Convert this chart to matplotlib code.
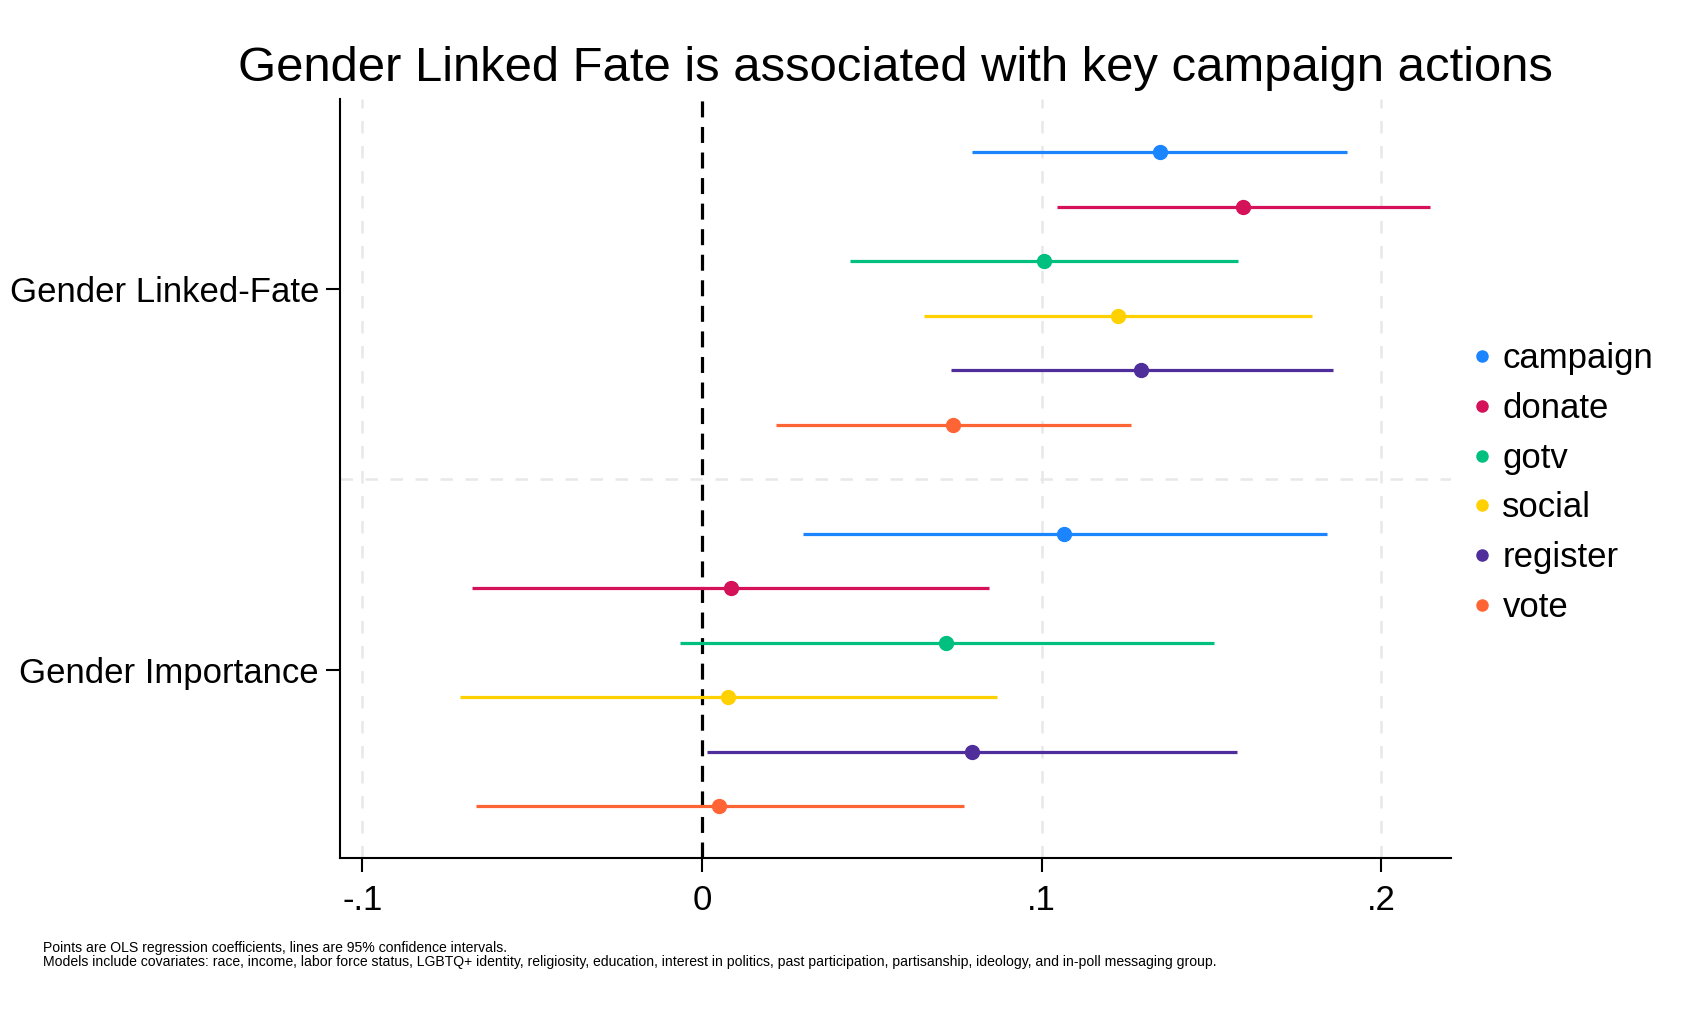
import numpy as np
import matplotlib
matplotlib.use("Agg")
import matplotlib.pyplot as plt

plt.rcParams['font.family'] = ['Liberation Sans', 'DejaVu Sans']

outcomes = ['campaign', 'donate', 'gotv', 'social', 'register', 'vote']
colors = ['#1A85FF', '#D41159', '#00C07F', '#FFD100', '#4F2D9B', '#FF6534']
groups = ['Gender Linked-Fate', 'Gender Importance']

# coefficients and 95% CI bounds, per group, in outcome order
linked_coef = [0.1347, 0.1593, 0.1006, 0.1224, 0.1293, 0.0738]
linked_lo = [0.0795, 0.1044, 0.0435, 0.0653, 0.0732, 0.0218]
linked_hi = [0.1900, 0.2142, 0.1577, 0.1795, 0.1858, 0.1262]

imp_coef = [0.1066, 0.0085, 0.0719, 0.0076, 0.0795, 0.0050]
imp_lo = [0.0297, -0.0678, -0.0066, -0.0713, 0.0016, -0.0666]
imp_hi = [0.1839, 0.0845, 0.1508, 0.0868, 0.1574, 0.0770]

fig = plt.figure(figsize=(16.82, 10.09), dpi=100)
ax = fig.add_axes([0.2021, 0.1497, 0.6606, 0.7522])

coefs = [linked_coef, imp_coef]
los = [linked_lo, imp_lo]
his = [linked_hi, imp_hi]

for g in range(2):
    for i, name in enumerate(outcomes):
        y = 1 + g * 7 + i
        ax.plot([los[g][i], his[g][i]], [y, y], color=colors[i], lw=2.3, solid_capstyle='butt', zorder=3)
        ax.plot(coefs[g][i], y, 'o', color=colors[i], ms=10, zorder=4,
                label=name if g == 0 else None)

# grid lines
for xv in [-0.1, 0.1, 0.2]:
    ax.axvline(xv, color='#e8e8e8', lw=1.8, ls=(0, (5, 5)), zorder=1)
ax.axhline(7, color='#e8e8e8', lw=1.8, ls=(0, (5, 5)), zorder=1)
ax.axvline(0, color='black', lw=2.3, ls=(0, (5, 3)), zorder=2)

ax.set_xlim(-0.1066, 0.2205)
ax.set_ylim(13.95, 0.02)
ax.set_xticks([-0.1, 0, 0.1, 0.2])
ax.set_xticklabels(['-.1', '0', '.1', '.2'])
ax.set_yticks([3.5, 10.5])
ax.set_yticklabels(groups)
ax.tick_params(axis='both', labelsize=25, length=10, width=1.5, direction='out')
ax.tick_params(axis='x', pad=9)
ax.tick_params(axis='y', pad=5)
ax.spines['top'].set_visible(False)
ax.spines['right'].set_visible(False)
ax.spines['left'].set_linewidth(1.5)
ax.spines['bottom'].set_linewidth(1.5)

ax.set_title('Gender Linked Fate is associated with key campaign actions', fontsize=35.3, pad=13)

ax.legend(loc='center left', bbox_to_anchor=(0.99, 0.494), frameon=False, fontsize=25,
          handlelength=0.6, handletextpad=0.3, labelspacing=0.48, markerscale=0.8)

fig.text(0.0256, 0.0562, 'Points are OLS regression coefficients, lines are 95% confidence intervals.', fontsize=10.1)
fig.text(0.0256, 0.0424, 'Models include covariates: race, income, labor force status, LGBTQ+ identity, religiosity, education, '
         'interest in politics, past participation, partisanship, ideology, and in-poll messaging group.', fontsize=10.1)

fig.savefig('out.png', dpi=100)
